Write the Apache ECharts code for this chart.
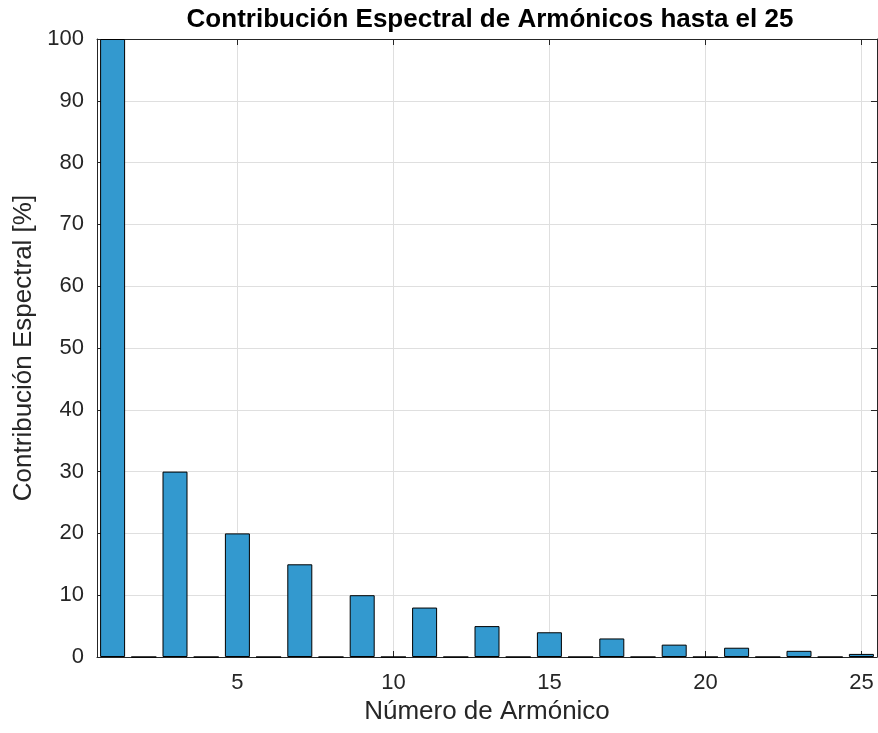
<!DOCTYPE html>
<html>
<head>
<meta charset="utf-8">
<script src="https://cdn.jsdelivr.net/npm/echarts@6/dist/echarts.min.js"></script>
<style>
  html, body { margin: 0; padding: 0; background: #fff; }
  #chart { width: 878px; height: 733px; }
</style>
</head>
<body>
<div id="chart"></div>
<script>
// armónicos 1..25 y su contribución [%]
var harmonics = [1, 2, 3, 4, 5, 6, 7, 8, 9, 10, 11, 12, 13, 14, 15, 16, 17, 18, 19, 20, 21, 22, 23, 24, 25];
var contribution = [100, 0, 30, 0, 20, 0, 15, 0, 10, 0, 8, 0, 5, 0, 4, 0, 3, 0, 2, 0, 1.5, 0, 1, 0, 0.5];
var xTicks = [5, 10, 15, 20, 25];

var font = "Liberation Sans, Arial, Helvetica, sans-serif";
var axisColor = "#262626";

var chart = echarts.init(document.getElementById("chart"));

var barData = harmonics.map(function (h, i) {
  return [h, contribution[i]];
});

var tickAxis = {
  axisLine: { show: true, onZero: false, lineStyle: { color: axisColor, width: 1 } },
  axisTick: { show: true, inside: true, length: 6, lineStyle: { color: axisColor } },
  splitLine: { show: false },
  axisLabel: { show: false }
};

var option = {
  animation: false,
  title: {
    text: "Contribución Espectral de Armónicos hasta el 25",
    left: 485,
    textAlign: "center",
    top: 2,
    textStyle: { fontFamily: font, fontWeight: "bold", fontSize: 26, color: "#000" }
  },
  grid: { left: 97, right: 1, top: 39, bottom: 76 },
  xAxis: [
    {
      type: "value",
      min: 0.5,
      max: 25.5,
      interval: 5,
      name: "Número de Armónico",
      nameLocation: "middle",
      nameGap: 41,
      nameTextStyle: { fontFamily: font, fontSize: 26, color: axisColor },
      axisLine: { show: true, onZero: false, lineStyle: { color: axisColor, width: 1 } },
      axisTick: { show: true, inside: true, length: 6, lineStyle: { color: axisColor }, customValues: xTicks },
      axisLabel: { fontFamily: font, fontSize: 22, color: axisColor, margin: 15, customValues: xTicks },
      splitLine: { show: true, lineStyle: { color: "#dfdfdf", width: 1 } }
    },
    Object.assign({ type: "value", position: "top", min: 0.5, max: 25.5 }, tickAxis, {
      axisTick: { show: true, inside: true, length: 6, lineStyle: { color: axisColor }, customValues: xTicks }
    })
  ],
  yAxis: [
    {
      type: "value",
      min: 0,
      max: 100,
      interval: 10,
      name: "Contribución Espectral [%]",
      nameLocation: "middle",
      nameGap: 60,
      nameTextStyle: { fontFamily: font, fontSize: 26, color: axisColor },
      axisLine: { show: true, lineStyle: { color: axisColor, width: 1 } },
      axisTick: { show: true, inside: true, length: 6, lineStyle: { color: axisColor } },
      axisLabel: { fontFamily: font, fontSize: 22, color: axisColor, margin: 13 },
      splitLine: { show: true, lineStyle: { color: "#dfdfdf", width: 1 } }
    },
    Object.assign({ type: "value", position: "right", min: 0, max: 100, interval: 10 }, tickAxis)
  ],
  series: [
    {
      type: "bar",
      data: barData,
      barWidth: 25,
      itemStyle: { color: "#3399cf", borderColor: "#000", borderWidth: 1 },
      emphasis: { disabled: true }
    }
  ]
};

chart.setOption(option);
window.addEventListener("resize", function () {
  chart.resize();
});
</script>
</body>
</html>
